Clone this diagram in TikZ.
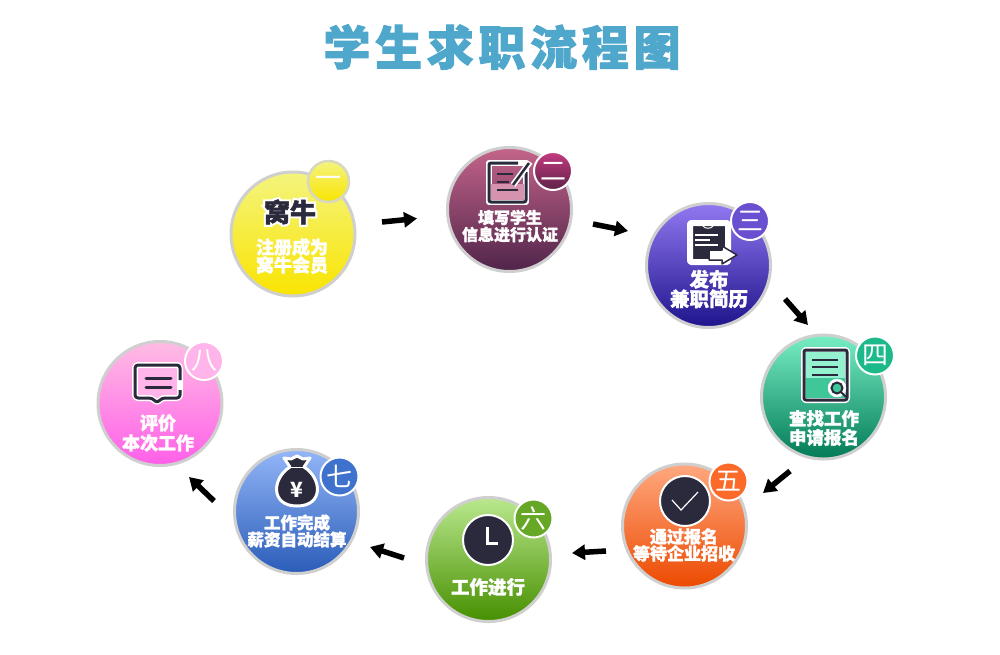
\documentclass[tikz,border=0pt]{standalone}
\usepackage{fontspec}
\usepackage{tikz}
\usetikzlibrary{arrows.meta,shadows}
\newfontfamily\cjk{Noto Sans CJK SC}
\newfontfamily\cjktitle[BoldFeatures={FakeBold=2,LetterSpace=10}]{Noto Sans CJK SC}
\newfontfamily\cjkhalo[BoldFeatures={FakeBold=18}]{Noto Sans CJK SC}
\newfontfamily\cjkfat[BoldFeatures={FakeBold=1.5}]{Noto Sans CJK SC}
\definecolor{ink}{HTML}{2A2A3C}
\definecolor{ring}{HTML}{CFCFCF}
\definecolor{titleblue}{HTML}{4FA8CC}
\definecolor{onetop}{HTML}{F4F47E}
\definecolor{onebot}{HTML}{F9E400}
\definecolor{onerim}{HTML}{D8D8C0}
\definecolor{twotop}{HTML}{C4648A}
\definecolor{twobot}{HTML}{50244A}
\definecolor{twobadge}{HTML}{C43A80}
\definecolor{twobadgeb}{HTML}{5E2348}
\definecolor{threetop}{HTML}{9178F0}
\definecolor{threebot}{HTML}{1E148C}
\definecolor{threebadge}{HTML}{6A4FD0}
\definecolor{fourtop}{HTML}{78EEC4}
\definecolor{fourbot}{HTML}{017A56}
\definecolor{fourmid}{HTML}{3FC79A}
\definecolor{fourbadge}{HTML}{1CB98A}
\definecolor{fivetop}{HTML}{FFA880}
\definecolor{fivebot}{HTML}{EC4A00}
\definecolor{fivebadge}{HTML}{FB6A28}
\definecolor{sixtop}{HTML}{BAE88E}
\definecolor{sixbot}{HTML}{468F00}
\definecolor{sixbadge}{HTML}{66A826}
\definecolor{seventop}{HTML}{93B6F8}
\definecolor{sevenbot}{HTML}{2A5CB8}
\definecolor{sevenbadge}{HTML}{3F72CC}
\definecolor{eighttop}{HTML}{FFBCE4}
\definecolor{eightbot}{HTML}{FF5FE8}
\definecolor{eightbadge}{HTML}{FFB4EA}
\tikzset{
  stepdisc/.style 2 args={circle,draw=ring,line width=3pt,minimum size=124pt,inner sep=0pt,top color=#1,bottom color=#2},
  badge/.style 2 args={circle,draw=white,line width=2pt,minimum size=38pt,inner sep=0pt,top color=#1,bottom color=#2,
    circular drop shadow={shadow scale=1.06,shadow xshift=0pt,shadow yshift=0pt,opacity=.35},
    text=white,font=\cjk\fontsize{26}{26}\selectfont},
  steptext/.style 2 args={text=white,align=center,inner sep=0pt,font=\cjkfat\bfseries\fontsize{#1}{#2}\selectfont},
  flow/.style={line width=5.5pt,-{Triangle[length=13pt,width=15pt]}},
  halo/.style={draw=white,line width=6pt,line join=round,line cap=round},
  inkline/.style={draw=ink,line width=3pt,line join=round},
  whiteline/.style={draw=white,line width=1.4pt}
}
\begin{document}
\begin{tikzpicture}[x=1pt,y=-1pt]
\useasboundingbox[fill=white] (0,0) rectangle (1000,654);
\node[text=titleblue,inner sep=0pt,font=\cjktitle\bfseries\fontsize{47}{47}\selectfont] (title) at (502,47) {学生求职流程图};

\node[stepdisc={onetop}{onebot}] (stepone) at (293,234) {};
\node[stepdisc={twotop}{twobot}] (steptwo) at (509.5,209.5) {};
\node[stepdisc={threetop}{threebot}] (stepthree) at (708.5,265.5) {};
\node[stepdisc={fourtop}{fourbot}] (stepfour) at (823.5,397) {};
\node[stepdisc={fivetop}{fivebot}] (stepfive) at (684.5,526) {};
\node[stepdisc={sixtop}{sixbot}] (stepsix) at (488.5,559.5) {};
\node[stepdisc={seventop}{sevenbot}] (stepseven) at (296.5,511.5) {};
\node[stepdisc={eighttop}{eightbot}] (stepeight) at (160,403.5) {};

\node[inner sep=0pt,text=white,font=\cjkhalo\bfseries\fontsize{26}{26}\selectfont] (brandhalo) at (290,212) {窝牛};
\node[inner sep=0pt,text=ink,font=\cjkfat\bfseries\fontsize{26}{26}\selectfont] (brand) at (290,212) {窝牛};
\node[steptext={18}{18}] (textone) at (292,256) {注册成为\\窝牛会员};
\node[steptext={16}{17}] (texttwo) at (510,226) {填写学生\\信息进行认证};
\node[steptext={19.5}{19.5}] (textthree) at (709,289) {发布\\兼职简历};
\node[steptext={17.5}{19}] (textfour) at (824,428) {查找工作\\申请报名};
\node[steptext={17}{17}] (textfive) at (684,545) {通过报名\\等待企业招收};
\node[steptext={18.5}{18.5}] (textsix) at (488,587) {工作进行};
\node[steptext={16.5}{17}] (textseven) at (297,531) {工作完成\\薪资自动结算};
\node[steptext={18}{20}] (texteight) at (158,433) {评价\\本次工作};

% note and pencil
\draw[halo] (489,163) rectangle (526,202);
\fill[twotop!70!white] (491,184) rectangle (524,200);
\draw[inkline,rounded corners=2pt] (526,172) -- (526,202) -- (489,202) -- (489,163) -- (518,163);
\draw[ink,line width=2.5pt] (497,174) -- (513,174) (497,182) -- (509,182) (497,190) -- (518,190);
\draw[white,line width=6pt] (513,185) -- (530,162);
\draw[ink,line width=2.5pt] (513,185) -- (529,163);
% resume with arrow
\draw[halo,fill=ink,rounded corners=1pt] (690,223) rectangle (728,262);
\draw[white,line width=1pt] (703,226) .. controls (705,229) and (711,229) .. (713,226);
\draw[whiteline] (695,235) -- (718,235) (695,240) -- (710,240) (695,245) -- (718,245);
\draw[ink,fill=white,line width=1.5pt,line join=round] (709,250) -- (722,250) -- (722,246) -- (737,255) -- (722,264) -- (722,260) -- (709,260) -- cycle;
% job sheet and lens
\draw[halo,rounded corners=2pt] (804,350) rectangle (847,400);
\fill[fourtop!80!white] (806,352) rectangle (845,378);
\fill[fourmid] (806,378) rectangle (845,398);
\draw[inkline,rounded corners=2pt] (804,350) -- (847,350) -- (847,400) -- (804,400) -- cycle;
\draw[ink,line width=2pt] (812,360) -- (838,360) (812,367) -- (838,367) (812,375) -- (838,375);
\draw[white,fill=white] (837,388) circle[radius=9pt];
\draw[ink,line width=2pt,fill=fourmid] (837,388) circle[radius=5.5pt];
\draw[ink,line width=2pt] (841,392) -- (846,397);
% check mark
\node[circle,fill=ink,draw=white,line width=2pt,minimum size=50pt,inner sep=0pt] (checkdisc) at (685,501) {};
\draw[white,line width=1.2pt] (672,500) -- (681,510) -- (698,492);
% clock
\node[circle,fill=ink,draw=white,line width=2pt,minimum size=50pt,inner sep=0pt] (clockdisc) at (488,540) {};
\draw[white,line width=3pt] (487,527) -- (487,543) -- (498,543);
% money bag
\draw[draw=white,line width=3pt,fill=ink,line join=round] (290,467) .. controls (272,478) and (270,506) .. (297,506) .. controls (324,506) and (322,478) .. (304,467) -- (310,458) -- (303,459) -- (297,456) -- (291,459) -- (284,458) -- cycle;
\draw[white,line width=1pt] (290,467) -- (304,467);
\node[text=white,inner sep=0pt,font=\cjk\bfseries\fontsize{21}{21}\selectfont] (yen) at (297,490) {¥};
% speech bubble
\fill[eightbadge] (135,365) rectangle (180,398);
\draw[halo,rounded corners=3pt] (135,365) -- (180,365) -- (180,398) -- (162,398) -- (157,403) -- (152,398) -- (135,398) -- cycle;
\draw[inkline,rounded corners=3pt] (180,380) -- (180,365) -- (135,365) -- (135,398) -- (152,398) -- (157,403) -- (162,398) -- (180,398) -- (180,390);
\draw[ink,line width=3pt,line cap=round] (146,378) -- (171,378) (146,387) -- (171,387);

\node[badge={onetop}{onebot},draw=onerim,line width=2.5pt,minimum size=41pt] (badgeone) at (328.5,181.5) {一};
\node[badge={twobadge}{twobadgeb}] (badgetwo) at (553,171) {二};
\node[badge={threebadge}{threebadge}] (badgethree) at (750,221) {三};
\node[badge={fourbadge}{fourbadge}] (badgefour) at (875,355.5) {四};
\node[badge={fivebadge}{fivebadge}] (badgefive) at (728.5,481.5) {五};
\node[badge={sixbadge}{sixbadge}] (badgesix) at (533.5,518.5) {六};
\node[badge={sevenbadge}{sevenbadge}] (badgeseven) at (339.5,476.5) {七};
\node[badge={eightbadge}{eightbadge}] (badgeeight) at (204,361) {八};

\coordinate (oneout) at (382,222);
\coordinate (twoin) at (417,218.5);
\coordinate (twoout) at (593,224);
\coordinate (threein) at (628,231);
\coordinate (threeout) at (785,299);
\coordinate (fourin) at (808,325);
\coordinate (fourout) at (790,471);
\coordinate (fivein) at (763,493);
\coordinate (fiveout) at (606,551);
\coordinate (sixin) at (572,553);
\coordinate (sixout) at (404,558);
\coordinate (sevenin) at (370,547);
\coordinate (sevenout) at (214,501);
\coordinate (eightin) at (189,477);
\draw[flow] (oneout) -- (twoin);
\draw[flow] (twoout) -- (threein);
\draw[flow] (threeout) -- (fourin);
\draw[flow] (fourout) -- (fivein);
\draw[flow] (fiveout) -- (sixin);
\draw[flow] (sixout) -- (sevenin);
\draw[flow] (sevenout) -- (eightin);
\end{tikzpicture}
\end{document}
